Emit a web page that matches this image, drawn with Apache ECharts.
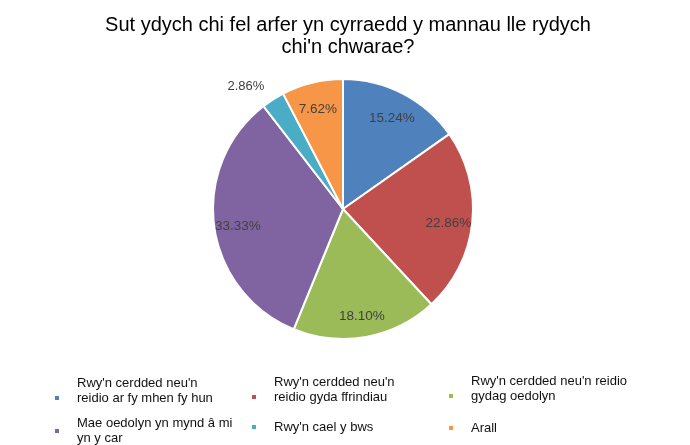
<!DOCTYPE html>
<html>
<head>
<meta charset="utf-8">
<script src="https://cdn.jsdelivr.net/npm/echarts@6/dist/echarts.min.js"></script>
<style>
html,body{margin:0;padding:0;background:#fff;}
#chart{width:690px;height:445px;}
</style>
</head>
<body>
<div id="chart"></div>
<script>
const titleText = "Sut ydych chi fel arfer yn cyrraedd y mannau lle rydych\nchi'n chwarae?";
const categories = [
  "Rwy'n cerdded neu'n\nreidio ar fy mhen fy hun",
  "Rwy'n cerdded neu'n\nreidio gyda ffrindiau",
  "Rwy'n cerdded neu'n reidio\ngydag oedolyn",
  "Mae oedolyn yn mynd â mi\nyn y car",
  "Rwy'n cael y bws",
  "Arall"
];
const values = [15.24, 22.86, 18.10, 33.33, 2.86, 7.62];
const colors = ['#4F81BD', '#C0504D', '#9BBB59', '#8064A2', '#4BACC6', '#F79646'];
const outsideLabelIndex = 4;

// legend layout: marker left, group top, whether the marker sits on the last text line
const legendLeft = [53, 250, 447, 53, 250, 447];
const legendTop = [375.5, 374.5, 373.5, 416, 419.5, 420.5];
const markerOnLastLine = [true, true, true, false, false, false];

const fmt = p => p.value.toFixed(2) + '%';

const chart = echarts.init(document.getElementById('chart'));

const mainData = categories.map((name, i) => ({
  name: name,
  value: values[i],
  itemStyle: { color: colors[i] },
  label: { show: i === outsideLabelIndex }
}));
const ringData = categories.map((name, i) => ({
  name: name,
  value: values[i],
  label: { show: i !== outsideLabelIndex }
}));

const legends = categories.map((name, i) => ({
  data: [name],
  left: legendLeft[i],
  top: legendTop[i],
  padding: 0,
  icon: 'rect',
  itemWidth: 6,
  itemHeight: 6,
  selectedMode: false,
  formatter: n => markerOnLastLine[i] ? n + '\n ' : n,
  textStyle: {
    fontFamily: 'Liberation Sans, Arial, sans-serif',
    fontSize: 13,
    lineHeight: 15,
    color: '#111',
    padding: [0, 0, 0, 12]
  }
}));

chart.setOption({
  animation: false,
  backgroundColor: '#fff',
  color: colors,
  title: {
    text: titleText,
    left: 343,
    textAlign: 'center',
    top: 9,
    textStyle: {
      fontFamily: 'Liberation Sans, Arial, sans-serif',
      fontSize: 20,
      lineHeight: 22,
      fontWeight: 'normal',
      color: '#000'
    }
  },
  legend: legends,
  series: [
    {
      type: 'pie',
      center: [343, 209],
      radius: 130,
      startAngle: 90,
      avoidLabelOverlap: false,
      itemStyle: { borderColor: '#fff', borderWidth: 2 },
      label: {
        position: 'outside',
        formatter: fmt,
        color: '#404040',
        fontFamily: 'Liberation Sans, Arial, sans-serif',
        fontSize: 13,
        distanceToLabelLine: 0
      },
      labelLine: { show: false, length: 16, length2: 0 },
      emphasis: { disabled: true },
      data: mainData
    },
    {
      type: 'pie',
      center: [343, 209],
      radius: [76, 130],
      startAngle: 90,
      silent: true,
      legendHoverLink: false,
      avoidLabelOverlap: false,
      itemStyle: { color: 'rgba(0,0,0,0)', borderWidth: 0 },
      label: {
        position: 'inside',
        formatter: fmt,
        offset: [0, 3],
        color: '#404040',
        fontFamily: 'Liberation Sans, Arial, sans-serif',
        fontSize: 13.5
      },
      labelLine: { show: false },
      emphasis: { disabled: true },
      data: ringData
    }
  ]
});
</script>
</body>
</html>
